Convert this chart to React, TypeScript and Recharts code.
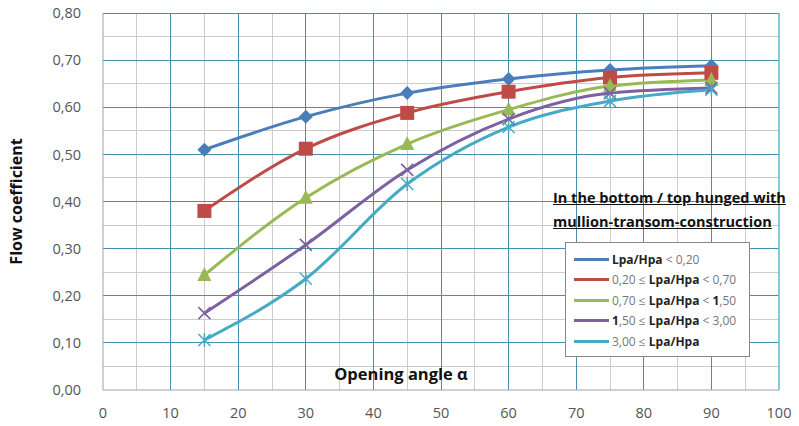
import React from 'react'
import { LineChart, Line, XAxis, YAxis, Legend, ReferenceLine } from 'recharts'

const angles = [15, 30, 45, 60, 75, 90]
const s1 = [0.51, 0.58, 0.63, 0.66, 0.679, 0.688]
const s2 = [0.38, 0.512, 0.588, 0.633, 0.663, 0.673]
const s3 = [0.244, 0.408, 0.522, 0.595, 0.645, 0.658]
const s4 = [0.163, 0.308, 0.467, 0.575, 0.63, 0.641]
const s5 = [0.106, 0.236, 0.437, 0.558, 0.613, 0.637]
const xTicks = [0, 10, 20, 30, 40, 50, 60, 70, 80, 90, 100]
const yTicks = [0, 0.1, 0.2, 0.3, 0.4, 0.5, 0.6, 0.7, 0.8]
const xMinor = [5, 15, 25, 35, 45, 55, 65, 75, 85, 95]
const yMinor = [0.05, 0.15, 0.25, 0.35, 0.45, 0.55, 0.65, 0.75]

const data = angles.map((a, i) => ({ a, s1: s1[i], s2: s2[i], s3: s3[i], s4: s4[i], s5: s5[i] }))

const BLUE = '#4a7ebb'
const RED = '#be4b48'
const GREEN = '#98b954'
const PURPLE = '#7d60a0'
const CYAN = '#46aac5'
const MAJOR = '#4591ac'
const MINOR = '#cccccc'
const FONT = '"Open Sans", sans-serif'

const fmt = (v: number) => v.toFixed(2).replace('.', ',')

const Diamond = (p: any) => {
  const { cx, cy } = p
  return <path d={`M${cx},${cy - 7} L${cx + 7},${cy} L${cx},${cy + 7} L${cx - 7},${cy} Z`} fill={BLUE} />
}
const Square = (p: any) => <rect x={p.cx - 7} y={p.cy - 7} width={14} height={14} fill={RED} />
const Triangle = (p: any) => {
  const { cx, cy } = p
  return <path d={`M${cx},${cy - 8} L${cx + 7},${cy + 6} L${cx - 7},${cy + 6} Z`} fill={GREEN} />
}
const Cross = (p: any) => {
  const { cx, cy } = p
  return <path d={`M${cx - 6},${cy - 6} L${cx + 6},${cy + 6} M${cx - 6},${cy + 6} L${cx + 6},${cy - 6}`} stroke={PURPLE} strokeWidth={1.6} />
}
const Star = (p: any) => {
  const { cx, cy } = p
  return <path d={`M${cx - 6},${cy - 6} L${cx + 6},${cy + 6} M${cx - 6},${cy + 6} L${cx + 6},${cy - 6} M${cx},${cy - 7} L${cx},${cy + 7}`} stroke={CYAN} strokeWidth={1.5} />
}

const legendItems = [
  { color: BLUE, parts: [['Lpa/Hpa', true], [' < 0,20', false]] },
  { color: RED, parts: [['0,20 ≤ ', false], ['Lpa/Hpa', true], [' < 0,70', false]] },
  { color: GREEN, parts: [['0,70 ≤ ', false], ['Lpa/Hpa', true], [' < ', false], ['1', true], [',50', false]] },
  { color: PURPLE, parts: [['1', true], [',50 ≤ ', false], ['Lpa/Hpa', true], [' < 3,00', false]] },
  { color: CYAN, parts: [['3,00 ≤ ', false], ['Lpa/Hpa', true]] },
]

const LegendBox = () => (
  <div style={{ fontFamily: FONT }}>
    <div style={{ fontWeight: 700, fontSize: 14.5, textDecoration: 'underline', color: '#111', lineHeight: '24px', marginLeft: -12, whiteSpace: 'nowrap' }}>
      In the bottom / top hunged with<br />mullion-transom-construction
    </div>
    <div style={{ marginTop: 8, width: 185, height: 115, border: '1px solid #888', background: '#fff', boxSizing: 'border-box', padding: '6px 0 0 8px' }}>
      {legendItems.map((it, i) => (
        <div key={i} style={{ display: 'flex', alignItems: 'center', height: 20.5, fontSize: 12, whiteSpace: 'nowrap' }}>
          <span style={{ display: 'inline-block', width: 35, height: 3, background: it.color, marginRight: 3 }} />
          {it.parts.map((p, j) => (
            <span key={j} style={{ fontWeight: p[1] ? 700 : 400, color: p[1] ? '#222' : '#777', whiteSpace: 'pre' }}>{p[0] as string}</span>
          ))}
        </div>
      ))}
    </div>
  </div>
)

export default function App() {
  return (
    <div style={{ position: 'absolute', left: 0, top: 0, width: 799, height: 426, background: '#fff' }}>
      <LineChart width={799} height={426} data={data} margin={{ top: 13, right: 20, bottom: 6, left: 0 }}>
        {yMinor.map(v => <ReferenceLine key={'ym' + v} y={v} stroke={MINOR} strokeWidth={1} shapeRendering="crispEdges" />)}
        {xMinor.map(v => <ReferenceLine key={'xm' + v} x={v} stroke={MINOR} strokeWidth={1} shapeRendering="crispEdges" />)}
        {yTicks.filter(v => v > 0).map(v => <ReferenceLine key={'y' + v} y={v} stroke={MAJOR} strokeWidth={1} shapeRendering="crispEdges" />)}
        {xTicks.filter(v => v > 0 && v < 100).map(v => <ReferenceLine key={'x' + v} x={v} stroke={MAJOR} strokeWidth={1} shapeRendering="crispEdges" />)}
        <ReferenceLine x={100} stroke="#5db8cc" strokeWidth={1.5} />
        <XAxis dataKey="a" type="number" domain={[0, 100]} ticks={xTicks} stroke="#a0a0a0" tickLine={false} tickMargin={12}
          tick={{ fontSize: 14.5, fill: '#555', fontFamily: FONT }}
          label={{ value: 'Opening angle α', position: 'insideTop', offset: -22, dx: -40, style: { fontWeight: 700, fontSize: 16.5, fill: '#111', fontFamily: FONT } }} />
        <YAxis type="number" domain={[0, 0.8]} ticks={yTicks} width={103} stroke="#a0a0a0" tickLine={false} tickMargin={16}
          tickFormatter={fmt} tick={{ fontSize: 14.5, fill: '#555', fontFamily: FONT }}
          label={{ value: 'Flow coefficient', angle: -90, position: 'insideLeft', offset: 16, style: { textAnchor: 'middle', fontWeight: 700, fontSize: 16, fill: '#111', fontFamily: FONT } }} />
        <Legend content={<LegendBox />} wrapperStyle={{ position: 'absolute', left: 565, top: 186, width: 0, height: 0, overflow: 'visible' }} />
        <Line type="monotone" dataKey="s1" stroke={BLUE} strokeWidth={3} dot={<Diamond />} isAnimationActive={false} />
        <Line type="monotone" dataKey="s2" stroke={RED} strokeWidth={3} dot={<Square />} isAnimationActive={false} />
        <Line type="monotone" dataKey="s3" stroke={GREEN} strokeWidth={3} dot={<Triangle />} isAnimationActive={false} />
        <Line type="monotone" dataKey="s4" stroke={PURPLE} strokeWidth={3} dot={<Cross />} isAnimationActive={false} />
        <Line type="monotone" dataKey="s5" stroke={CYAN} strokeWidth={3} dot={<Star />} isAnimationActive={false} />
      </LineChart>
    </div>
  )
}
